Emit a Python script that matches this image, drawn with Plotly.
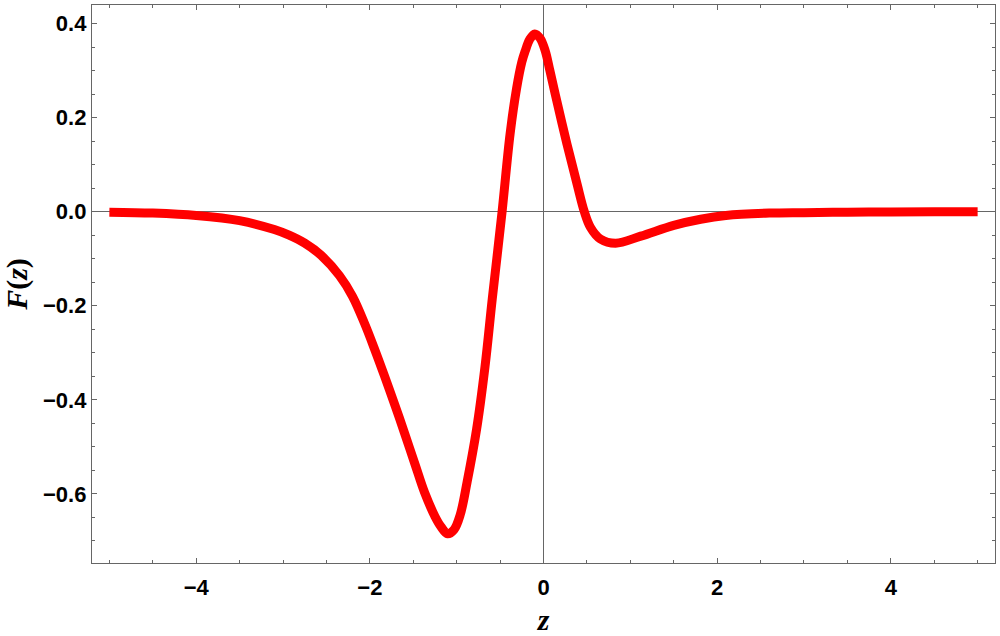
import plotly.graph_objects as go

z_vals = [-5.0, -4.5, -4.0, -3.5, -3.1, -2.93, -2.75, -2.56, -2.35, -2.2, -2.06, -1.95,
          -1.83, -1.71, -1.6, -1.48, -1.37, -1.25, -1.18, -1.105, -1.03, -0.96, -0.88,
          -0.77, -0.674, -0.59, -0.477, -0.385, -0.31, -0.25, -0.21, -0.16, -0.1, -0.04,
          0.02, 0.07, 0.135, 0.27, 0.386, 0.47, 0.54, 0.655, 0.83, 1.12, 1.5, 1.81, 2.1,
          2.6, 3.0, 3.5, 4.0, 4.5, 5.0]
F_vals = [-0.001, -0.003, -0.008, -0.019, -0.038, -0.050, -0.067, -0.093, -0.136, -0.180,
          -0.238, -0.290, -0.350, -0.412, -0.471, -0.537, -0.597, -0.648, -0.670, -0.685,
          -0.676, -0.645, -0.575, -0.462, -0.330, -0.185, 0.0, 0.165, 0.262, 0.318, 0.342,
          0.366, 0.378, 0.369, 0.342, 0.303, 0.25, 0.144, 0.059, 0.0, -0.033, -0.058,
          -0.067, -0.052, -0.029, -0.016, -0.008, -0.003, -0.002, -0.001, -0.0005,
          -0.0003, -0.0002]

x_ticks = [-4, -2, 0, 2, 4]
x_tick_text = ["\u22124", "\u22122", "0", "2", "4"]
y_ticks = [-0.6, -0.4, -0.2, 0.0, 0.2, 0.4]
y_tick_text = ["\u22120.6", "\u22120.4", "\u22120.2", "0.0", "0.2", "0.4"]

fig = go.Figure()
fig.add_trace(go.Scatter(x=z_vals, y=F_vals, mode="lines",
                         line=dict(color="#ff0000", width=9, shape="spline", smoothing=1.0),
                         showlegend=False, hoverinfo="skip"))

frame = "#666666"
tickfont = dict(family="Liberation Sans, Arial, sans-serif", size=22, color="black", weight="bold")
titlefont = dict(family="Liberation Serif, Times New Roman, serif", size=30, color="black")

fig.update_layout(
    width=1000, height=636,
    margin=dict(l=92, r=5, t=5, b=73),
    paper_bgcolor="white", plot_bgcolor="white",
    xaxis=dict(range=[-5.2, 5.2], automargin=False, showgrid=False, zeroline=True,
               zerolinecolor=frame, zerolinewidth=1, showline=True, linecolor=frame,
               linewidth=1.3, mirror="allticks", ticks="inside", ticklen=5,
               tickcolor=frame, tickwidth=1, tickvals=x_ticks, ticktext=x_tick_text,
               tickfont=tickfont, ticklabelstandoff=4,
               minor=dict(ticks="inside", ticklen=3, dtick=0.5, tick0=0, tickcolor=frame),
               title=dict(text="<b><i>z</i></b>", standoff=10, font=titlefont)),
    yaxis=dict(range=[-0.747, 0.4395], automargin=False, showgrid=False, zeroline=True,
               zerolinecolor=frame, zerolinewidth=1, showline=True, linecolor=frame,
               linewidth=1.3, mirror="allticks", ticks="inside", ticklen=5,
               tickcolor=frame, tickwidth=1, tickvals=y_ticks, ticktext=y_tick_text,
               tickfont=tickfont,
               minor=dict(ticks="inside", ticklen=3, dtick=0.05, tick0=0, tickcolor=frame),
               title=dict(text="<b><i>F</i>(<i>z</i>)</b>", standoff=10, font=titlefont)),
)

fig.write_html("out.html", config={"displayModeBar": False},
               post_script="document.body.style.margin='0';")
